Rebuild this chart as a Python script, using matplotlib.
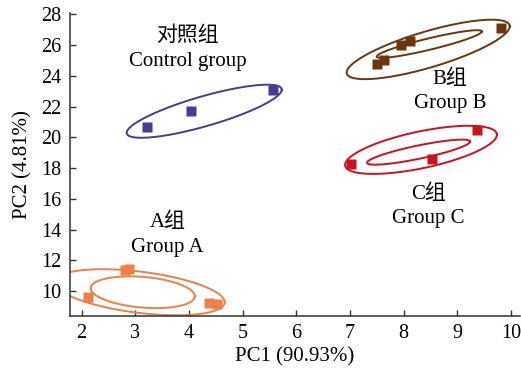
import numpy as np
import matplotlib
matplotlib.use("Agg")
import matplotlib.pyplot as plt

# score points
ctrl_x = [3.21, 4.03, 5.56]
ctrl_y = [20.69, 21.74, 23.10]
grpb_x = [7.50, 7.63, 7.95, 8.12, 9.82]
grpb_y = [24.74, 25.00, 26.00, 26.25, 27.12]
grpc_x = [7.02, 8.53, 9.37]
grpc_y = [18.28, 18.60, 20.47]
grpa_x = [2.11, 2.80, 2.88, 4.37, 4.52]
grpa_y = [9.60, 11.40, 11.45, 9.21, 9.14]

# ellipses: centre x, centre y, rightmost offset x, rightmost offset y, half height over centre
ctrl_ell = [(4.285, 21.70, 1.445, 1.40, 1.01)]
grpb_ell = [(8.46, 25.72, 1.52, 1.50, 1.22), (8.48, 26.07, 0.98, 0.815, 0.38)]
grpc_ell = [(8.325, 19.19, 1.415, 0.98, 1.22), (8.28, 19.04, 0.96, 0.685, 0.44)]
grpa_ell = [(3.08, 9.93, 1.586, -0.65, 1.35), (3.14, 9.93, 0.97, -0.26, 1.00)]

labels = ["对照组\nControl group", "B组\nGroup B", "C组\nGroup C", "A组\nGroup A"]
label_x = [3.98, 8.87, 8.47, 3.60]
label_y = [25.75, 23.01, 15.51, 13.65]

xticks = [2, 3, 4, 5, 6, 7, 8, 9, 10]
yticks = [10, 12, 14, 16, 18, 20, 22, 24, 26, 28]

fonts = ["Liberation Serif", "Noto Sans CJK SC"]
plt.rcParams["font.family"] = fonts

groups = [
    (ctrl_x, ctrl_y, ctrl_ell, "#4a3a92"),
    (grpb_x, grpb_y, grpb_ell, "#6a3610"),
    (grpc_x, grpc_y, grpc_ell, "#cc1121"),
    (grpa_x, grpa_y, grpa_ell, "#ec7f4c"),
]

fig = plt.figure(figsize=(5.21, 3.77), dpi=100)
ax = fig.add_axes([0.134, 0.162, 0.864, 0.804])

t = np.linspace(0, 2 * np.pi, 300)
for xs, ys, ells, col in groups:
    for cx, cy, dx, dy, h in ells:
        ax.plot(cx + dx * np.cos(t), cy + dy * np.cos(t) + h * np.sin(t),
                color=col, lw=1.4)
    ax.plot(xs, ys, "s", color=col, ms=6.5, mec="none")

for txt, tx, ty in zip(labels, label_x, label_y):
    ax.text(tx, ty, txt, ha="center", va="center", fontsize=15,
            linespacing=1.4)

ax.set_xlim(1.78, 10.17)
ax.set_ylim(8.39, 28.1)
ax.set_xticks(xticks)
ax.set_yticks(yticks)
ax.tick_params(direction="in", length=4, width=1, labelsize=14.5, pad=6,
               color="#333333")
for s in ["top", "right"]:
    ax.spines[s].set_visible(False)
for s in ["left", "bottom"]:
    ax.spines[s].set_color("#333333")
    ax.spines[s].set_linewidth(1.1)

ax.set_xlabel("PC1 (90.93%)", fontsize=15, labelpad=3)
ax.set_ylabel("PC2 (4.81%)", fontsize=15, labelpad=6)

fig.savefig("out.png", dpi=100)
